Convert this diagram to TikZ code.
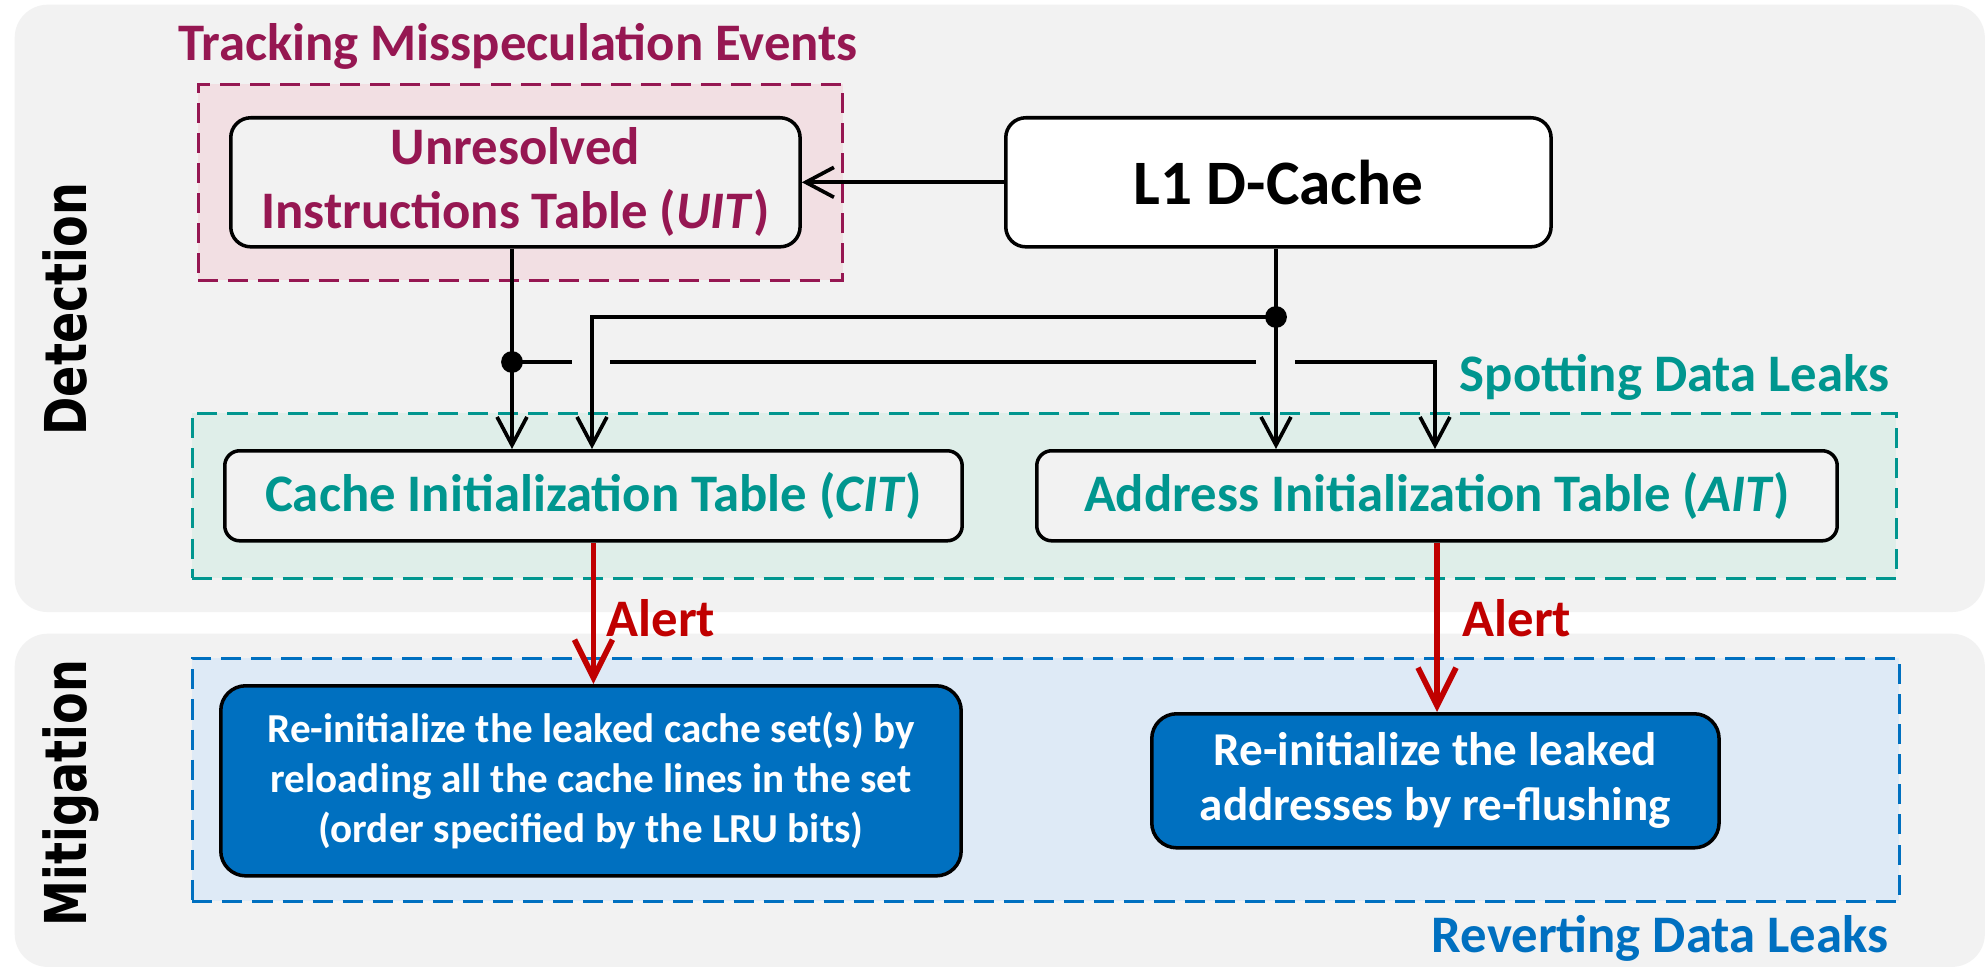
\documentclass[tikz,border=0pt]{standalone}
\usepackage{fontspec}
\usepackage{graphicx}
\setmainfont{Carlito}
\newfontfamily\vfont{DejaVu Sans}
\usetikzlibrary{arrows.meta}
\definecolor{cMaroon}{RGB}{150,23,82}
\definecolor{cPink}{RGB}{242,223,227}
\definecolor{cTeal}{RGB}{0,150,143}
\definecolor{cTealFill}{RGB}{223,238,233}
\definecolor{cBlue}{RGB}{0,112,192}
\definecolor{cBlueFill}{RGB}{222,234,246}
\definecolor{cRed}{RGB}{192,0,0}
\definecolor{cPanel}{RGB}{242,242,242}
\begin{document}
\begin{tikzpicture}[x=0.01cm, y=-0.01cm,
  panelbox/.style={fill=cPanel, draw=none, rounded corners=0.33cm, anchor=north west, inner sep=0},
  grpbox/.style={line width=0.75pt, dash pattern=on 5.7pt off 2.85pt, anchor=north west, inner sep=0},
  tbox/.style={draw=black, line width=1pt, rounded corners=0.2cm, anchor=north west, align=center, inner sep=0},
  bbox/.style={draw=black, line width=1pt, fill=cBlue, text=white, rounded corners=0.25cm, anchor=north west, align=center, inner sep=0},
  lbl/.style={font=\bfseries\fontsize{15pt}{18pt}\selectfont, inner sep=0},
  vlbl/.style={rotate=90, anchor=base, inner sep=0},
  conn/.style={line width=1.05pt},
  arr/.style={conn, -{Straight Barb[length=8pt, width=8.5pt]}},
  alarr/.style={draw=cRed, line width=1.6pt, -{Straight Barb[length=10.8pt, width=10.8pt]}}
]
\useasboundingbox (0,0) rectangle (1987,970);
\fill[white] (0,0) rectangle (1987,970);

% panels
\node[panelbox, minimum width=19.69cm, minimum height=6.07cm] (det) at (14,4) {};
\node[panelbox, minimum width=19.69cm, minimum height=3.33cm] (mit) at (14,633) {};
\node[vlbl] (detl) at (87,309) {\scalebox{0.8}[1]{\vfont\bfseries\fontsize{16.4pt}{18pt}\selectfont Detection}};
\node[vlbl] (mitl) at (87,793) {\scalebox{0.8}[1]{\vfont\bfseries\fontsize{16.4pt}{18pt}\selectfont Mitigation}};

% groups
\node[grpbox, draw=cMaroon, fill=cPink, minimum width=6.44cm, minimum height=1.96cm] (pgrp) at (197,83) {};
\node[grpbox, draw=cTeal, fill=cTealFill, minimum width=17.03cm, minimum height=1.65cm] (tgrp) at (191,412) {};
\node[grpbox, draw=cBlue, fill=cBlueFill, minimum width=17.06cm, minimum height=2.43cm] (bgrp) at (191,657) {};

\node[lbl, anchor=base, text=cMaroon] (trk) at (518,61) {Tracking Misspeculation Events};
\node[lbl, anchor=base east, text=cTeal] (spt) at (1890,392) {Spotting Data Leaks};
\node[lbl, anchor=base east, text=cBlue] (rev) at (1889,952) {Reverting Data Leaks};

% boxes
\node[tbox, fill=cPanel, text=cMaroon, minimum width=5.69cm, minimum height=1.29cm,
  font=\bfseries\fontsize{15pt}{18.2pt}\selectfont] (uit) at (229,116)
  {Unresolved\\Instructions Table (\textit{UIT})};
\node[tbox, fill=white, minimum width=5.45cm, minimum height=1.29cm,
  font=\bfseries\fontsize{18pt}{21pt}\selectfont] (l1) at (1004,116) {L1 D-Cache};
\node[tbox, fill=cPanel, text=cTeal, rounded corners=0.15cm, minimum width=7.37cm, minimum height=0.90cm,
  font=\bfseries\fontsize{15pt}{18pt}\selectfont] (cit) at (223,449) {Cache Initialization Table (\textit{CIT})};
\node[tbox, fill=cPanel, text=cTeal, rounded corners=0.15cm, minimum width=8.00cm, minimum height=0.90cm,
  font=\bfseries\fontsize{15pt}{18pt}\selectfont] (ait) at (1035,449) {Address Initialization Table (\textit{AIT})};
\node[bbox, minimum width=7.40cm, minimum height=1.90cm,
  font=\bfseries\fontsize{11.7pt}{14.2pt}\selectfont] (lb) at (219,684)
  {Re-initialize the leaked cache set(s) by\\reloading all the cache lines in the set\\(order specified by the LRU bits)};
\node[bbox, minimum width=5.67cm, minimum height=1.34cm,
  font=\bfseries\fontsize{13.4pt}{15.6pt}\selectfont] (rb) at (1150,712)
  {Re-initialize the leaked\\addresses by re-flushing};

% connectors
\coordinate (d1) at (512,362);
\coordinate (d2) at (1276,317);
\coordinate (k1) at (592,317);
\coordinate (g1a) at (572,362);
\coordinate (g1b) at (610,362);
\coordinate (g2a) at (1256,362);
\coordinate (g2b) at (1295,362);
\coordinate (k2) at (1435,362);

\draw[arr] (l1.west) -- (uit.east);
\draw[arr] (uit.south -| d1) -- (cit.north -| d1);
\draw[arr] (l1.south -| d2) -- (ait.north -| d2);
\draw[arr] (d2) -- (k1) -- (cit.north -| k1);
\draw[conn] (d1) -- (g1a);
\draw[conn] (g1b) -- (g2a);
\draw[arr] (g2b) -- (k2) -- (ait.north -| k2);
\fill (d1) circle[radius=3.1pt];
\fill (d2) circle[radius=3.1pt];

\draw[alarr] (cit.south) -- (lb.north -| cit.south);
\draw[alarr] (ait.south) -- (rb.north -| ait.south);
\node[lbl, anchor=base west, text=cRed] (al1) at (606,636) {Alert};
\node[lbl, anchor=base west, text=cRed] (al2) at (1462,636) {Alert};
\end{tikzpicture}
\end{document}
